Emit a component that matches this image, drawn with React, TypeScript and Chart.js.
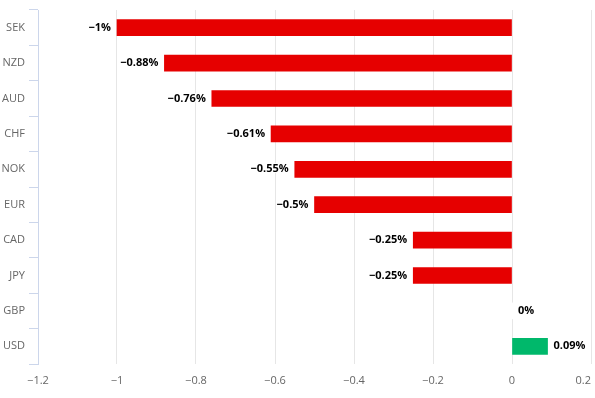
import React, { useEffect, useRef } from "react";
import { Chart, registerables, LinearScale } from "chart.js";

const categories = ["SEK", "NZD", "AUD", "CHF", "NOK", "EUR", "CAD", "JPY", "GBP", "USD"];
const values = [-1, -0.88, -0.76, -0.61, -0.55, -0.5, -0.25, -0.25, 0, 0.09];
const xTickValues = [-1.2, -1, -0.8, -0.6, -0.4, -0.2, 0, 0.2];

const RED = "#e60000";
const GREEN = "#00b86b";
const FONT = "'Open Sans', 'Liberation Sans', sans-serif";

class EdgeLinearScale extends LinearScale {
  static id = "edgeLinear";
  _computeLabelItems(chartArea: any) {
    const items = (LinearScale.prototype as any)._computeLabelItems.call(this, chartArea);
    const last = items[items.length - 1];
    if (last) last.options.textAlign = "right";
    return items;
  }
}

Chart.register(...registerables, EdgeLinearScale as any);

const fmtNum = (v: number) => {
  const r = Math.round(v * 100) / 100;
  return r < 0 ? "\u2212" + String(Math.abs(r)) : String(r);
};

const dataLabelPlugin = {
  id: "dataLabels",
  afterDatasetsDraw(chart: any) {
    const ctx = chart.ctx;
    const meta = chart.getDatasetMeta(0);
    const xs = chart.scales.x;
    ctx.save();
    ctx.font = `bold 11px ${FONT}`;
    ctx.textBaseline = "middle";
    ctx.lineJoin = "round";
    meta.data.forEach((el: any, i: number) => {
      const v = values[i];
      const px = xs.getPixelForValue(v);
      const text = fmtNum(v) + "%";
      let x;
      if (v < 0) {
        ctx.textAlign = "right";
        x = px - 6;
      } else {
        ctx.textAlign = "left";
        x = px + 6;
      }
      ctx.strokeStyle = "#ffffff";
      ctx.lineWidth = 2;
      ctx.strokeText(text, x, el.y);
      ctx.fillStyle = "#000000";
      ctx.fillText(text, x, el.y);
    });
    ctx.restore();
  },
};

export default function App() {
  const ref = useRef<HTMLCanvasElement | null>(null);
  useEffect(() => {
    if (!ref.current) return;
    const chart = new Chart(ref.current, {
      type: "bar",
      data: {
        labels: categories,
        datasets: [
          {
            data: values,
            backgroundColor: values.map((v) => (v > 0 ? GREEN : v < 0 ? RED : "#ffffff")),
            barThickness: 16,
            minBarLength: 2,
            borderWidth: 0,
          },
        ],
      },
      options: {
        indexAxis: "y",
        responsive: false,
        animation: false,
        events: [],
        layout: { padding: { top: 10, right: 4, left: 0, bottom: 0 } },
        plugins: { legend: { display: false }, tooltip: { enabled: false } },
        scales: {
          x: {
            type: "edgeLinear" as any,
            min: -1.2,
            max: 0.2,
            afterBuildTicks: (s: any) => {
              s.ticks = xTickValues.map((v) => ({ value: v }));
            },
            afterFit: (s: any) => {
              s.height = 34;
              s.paddingLeft = 0;
              s.paddingRight = 0;
            },
            border: { display: false },
            grid: { color: "#e6e6e6", lineWidth: 1, drawTicks: false },
            ticks: {
              padding: 10,
              maxRotation: 0,
              autoSkip: false,
              color: "#666666",
              font: { family: FONT, size: 11 },
              callback: (v: any) => fmtNum(Number(v)),
            },
          },
          y: {
            afterFit: (s: any) => {
              s.width = 38;
              s.paddingTop = 0;
              s.paddingBottom = 0;
            },
            border: { display: true, color: "#ccd6eb", width: 1 },
            grid: {
              drawOnChartArea: false,
              drawTicks: true,
              tickLength: 9,
              tickColor: "#ccd6eb",
              offset: true,
            },
            ticks: {
              padding: 4,
              color: "#666666",
              font: { family: FONT, size: 11 },
            },
          },
        },
      },
      plugins: [dataLabelPlugin],
    });
    return () => chart.destroy();
  }, []);
  return (
    <div style={{ position: "fixed", left: 0, top: 0, width: 595, height: 398, background: "#ffffff" }}>
      <canvas ref={ref} width={595} height={398} />
    </div>
  );
}
